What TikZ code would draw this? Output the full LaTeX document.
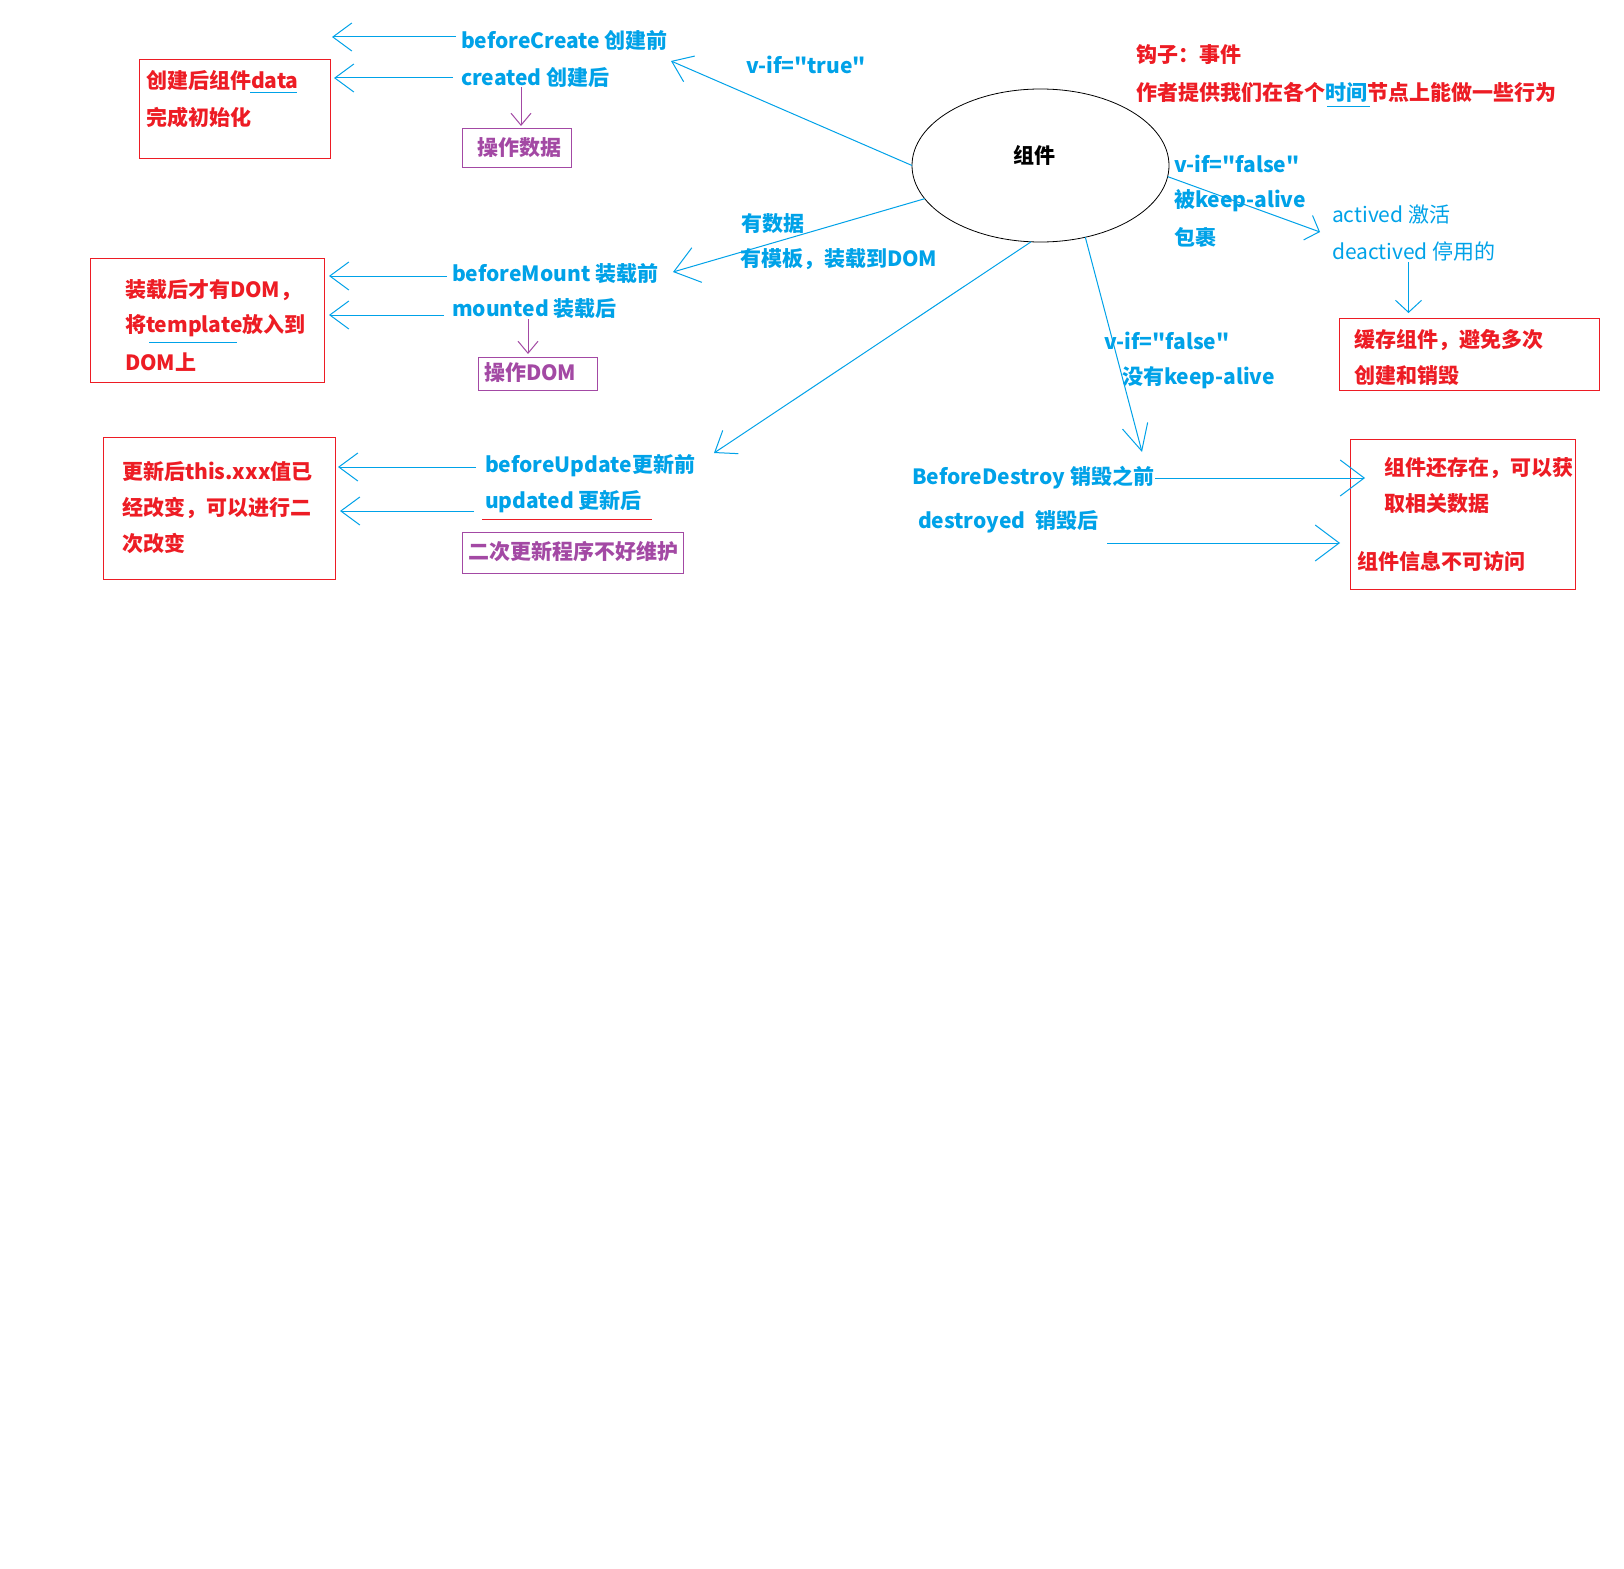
\documentclass[tikz,border=0pt]{standalone}
\usepackage{fontspec}
\newfontfamily\cjkf{Noto Sans CJK SC}
\usetikzlibrary{arrows.meta,shapes.geometric}
\definecolor{pblue}{RGB}{0,162,232}
\definecolor{pred}{RGB}{237,28,36}
\definecolor{ppurple}{RGB}{163,73,164}
\begin{document}
\begin{tikzpicture}[x=1pt,y=-1pt,
  every node/.style={inner sep=0pt, outer sep=0pt, font=\cjkf\fontsize{21}{25}\selectfont},
  bt/.style={text=pblue, font=\cjkf\fontsize{21}{25}\selectfont\bfseries, anchor=west},
  lt/.style={text=pblue, font=\cjkf\fontsize{21}{25}\selectfont, anchor=west},
  rt/.style={text=pred, font=\cjkf\fontsize{21}{25}\selectfont\bfseries, anchor=west},
  purtext/.style={text=ppurple, font=\cjkf\fontsize{21}{25}\selectfont\bfseries},
  redbox/.style={draw=pred, line width=1pt, anchor=north west},
  purbox/.style={draw=ppurple, line width=1pt, anchor=north west},
  conn/.style={draw=pblue, line width=1pt},
  barb/.style={-{Straight Barb[length=19pt,width=28pt]}},
  bigbarb/.style={-{Straight Barb[length=24pt,width=36pt]}},
  smallbarb/.style={-{Straight Barb[length=12pt,width=26pt]}},
  pconn/.style={draw=ppurple, line width=1pt, -{Straight Barb[length=12pt,width=20pt]}},
  uline/.style={line width=1pt}
]
\fill[white] (0,0) rectangle (1624,1568);
\useasboundingbox (0,0) rectangle (1624,1568);

% central component
\node[draw=black, line width=0.8pt, ellipse, minimum width=257pt, minimum height=153pt] (comp) at (1040.5,165.5) {};
\node[font=\cjkf\fontsize{21}{25}\selectfont\bfseries, text=black] (compl) at (1034,155) {组件};

% hook explanation
\node[rt] (h1) at (1136,55) {钩子：事件};
\node[rt] (h2) at (1136,92) {作者提供我们在各个\textcolor{pblue}{时间}节点上能做一些行为};
\draw[pblue, uline] (1327,107) -- (1370,107);

% create stage
\node[bt] (bc) at (461,40) {beforeCreate 创建前};
\node[bt] (cr) at (461,77) {created 创建后};
\node[bt] (vt) at (746,65) {v-if="true"};
\node[redbox, minimum width=191pt, minimum height=98pt] (r1) at (139,60) {};
\node[rt] (r1a) at (146,80) {创建后组件data};
\node[rt] (r1b) at (146,117) {完成初始化};
\draw[pblue, uline] (250,93) -- (297,93);
\node[purbox, minimum width=109pt, minimum height=38pt] (p1) at (462,129) {};
\node[purtext] (p1t) at (519,148) {操作数据};

\coordinate (tbc) at (332,37);
\coordinate (tcr) at (334,78);
\coordinate (tvt) at (671,61);
\coordinate (tp1) at (521,126);
\draw[conn, barb, shorten <=5pt] (tbc -| bc.west) -- (tbc);
\draw[conn, barb, shorten <=8pt] (tcr -| cr.west) -- (tcr);
\draw[conn, barb] (comp.west) -- (tvt);
\draw[pconn] (cr.south -| tp1) -- (tp1);

% mount stage
\node[bt] (hd) at (741,224) {有数据};
\node[bt] (hm) at (740,259) {有模板，装载到DOM};
\node[bt] (bm) at (452,274) {beforeMount 装载前};
\node[bt] (mt) at (452,309) {mounted 装载后};
\node[redbox, minimum width=234pt, minimum height=124pt] (r2) at (90,258) {};
\node[rt] (r2a) at (125,290) {装载后才有DOM，};
\node[rt] (r2b) at (125,326) {将template放入到};
\node[rt] (r2c) at (125,362) {DOM上};
\draw[pblue, uline] (149,342) -- (237,342);
\node[purbox, minimum width=119pt, minimum height=33pt] (p2) at (478,357) {};
\node[purtext, anchor=west] (p2t) at (484,373) {操作DOM};

\coordinate (thd) at (673,272);
\coordinate (tbm) at (329,276);
\coordinate (tmt) at (329,315);
\coordinate (tp2) at (528,354);
\draw[conn, bigbarb] (comp.196) -- (thd);
\draw[conn, barb, shorten <=5pt] (tbm -| bm.west) -- (tbm);
\draw[conn, barb, shorten <=8pt] (tmt -| mt.west) -- (tmt);
\draw[pconn] (mt.south -| tp2) -- (tp2);

% update stage
\node[bt] (bu) at (485,466) {beforeUpdate更新前};
\node[bt] (ud) at (485,502) {updated 更新后};
\draw[pred, uline] (482,519) -- (652,519);
\node[redbox, minimum width=232pt, minimum height=142pt] (r3) at (103,437) {};
\node[rt] (r3a) at (122,471) {更新后this.xxx值已};
\node[rt] (r3b) at (122,508) {经改变，可以进行二};
\node[rt] (r3c) at (122,543) {次改变};
\node[purbox, minimum width=221pt, minimum height=41pt] (p3) at (462,532) {};
\node[purtext] (p3t) at (573,552) {二次更新程序不好维护};

\coordinate (tdg) at (714,453);
\coordinate (tbu) at (338,467);
\coordinate (tud) at (340,511);
\draw[conn, barb] (comp.263) -- (tdg);
\draw[conn, barb, shorten <=9pt] (tbu -| bu.west) -- (tbu);
\draw[conn, barb, shorten <=11pt] (tud -| ud.west) -- (tud);

% keep-alive branch
\node[bt] (vf1) at (1174,164) {v-if="false"};
\node[bt] (ka) at (1174,201) {被keep-alive};
\node[bt] (bg) at (1174,237) {包裹};
\node[lt] (ac) at (1332,215) {actived 激活};
\node[lt] (dc) at (1332,252) {deactived 停用的};
\node[redbox, minimum width=260pt, minimum height=72pt] (r4) at (1339,318) {};
\node[rt] (r4a) at (1354,340) {缓存组件，避免多次};
\node[rt] (r4b) at (1354,375) {创建和销毁};

\coordinate (tka) at (1320,232);
\coordinate (tdn) at (1408.5,313);
\draw[conn, smallbarb] (comp.355) -- (tka);
\draw[conn, smallbarb] (dc.south -| tdn) -- (tdn);

% destroy branch
\node[bt] (vf2) at (1104,341) {v-if="false"};
\node[bt] (nka) at (1122,378) {没有keep-alive};
\node[bt] (bd) at (912,478) {BeforeDestroy 销毁之前};
\node[bt] (ds) at (918,522) {destroyed\hspace{10pt}销毁后};
\node[redbox, minimum width=225pt, minimum height=150pt] (r5) at (1350,439) {};
\node[rt] (r5a) at (1384,468) {组件还存在，可以获};
\node[rt] (r5b) at (1384,504) {取相关数据};
\node[rt] (r5c) at (1357,561) {组件信息不可访问};

\coordinate (tds0) at (1142,452);
\coordinate (tbd) at (1365,478);
\coordinate (tds) at (1340,543);
\draw[conn, {-Straight Barb[length=26pt,width=26pt]}] (comp.302.5) -- (tds0);
\draw[conn, bigbarb, shorten <=1pt] (tbd -| bd.east) -- (tbd);
\draw[conn, bigbarb, shorten <=9pt] (tds -| ds.east) -- (tds);
\end{tikzpicture}
\end{document}
